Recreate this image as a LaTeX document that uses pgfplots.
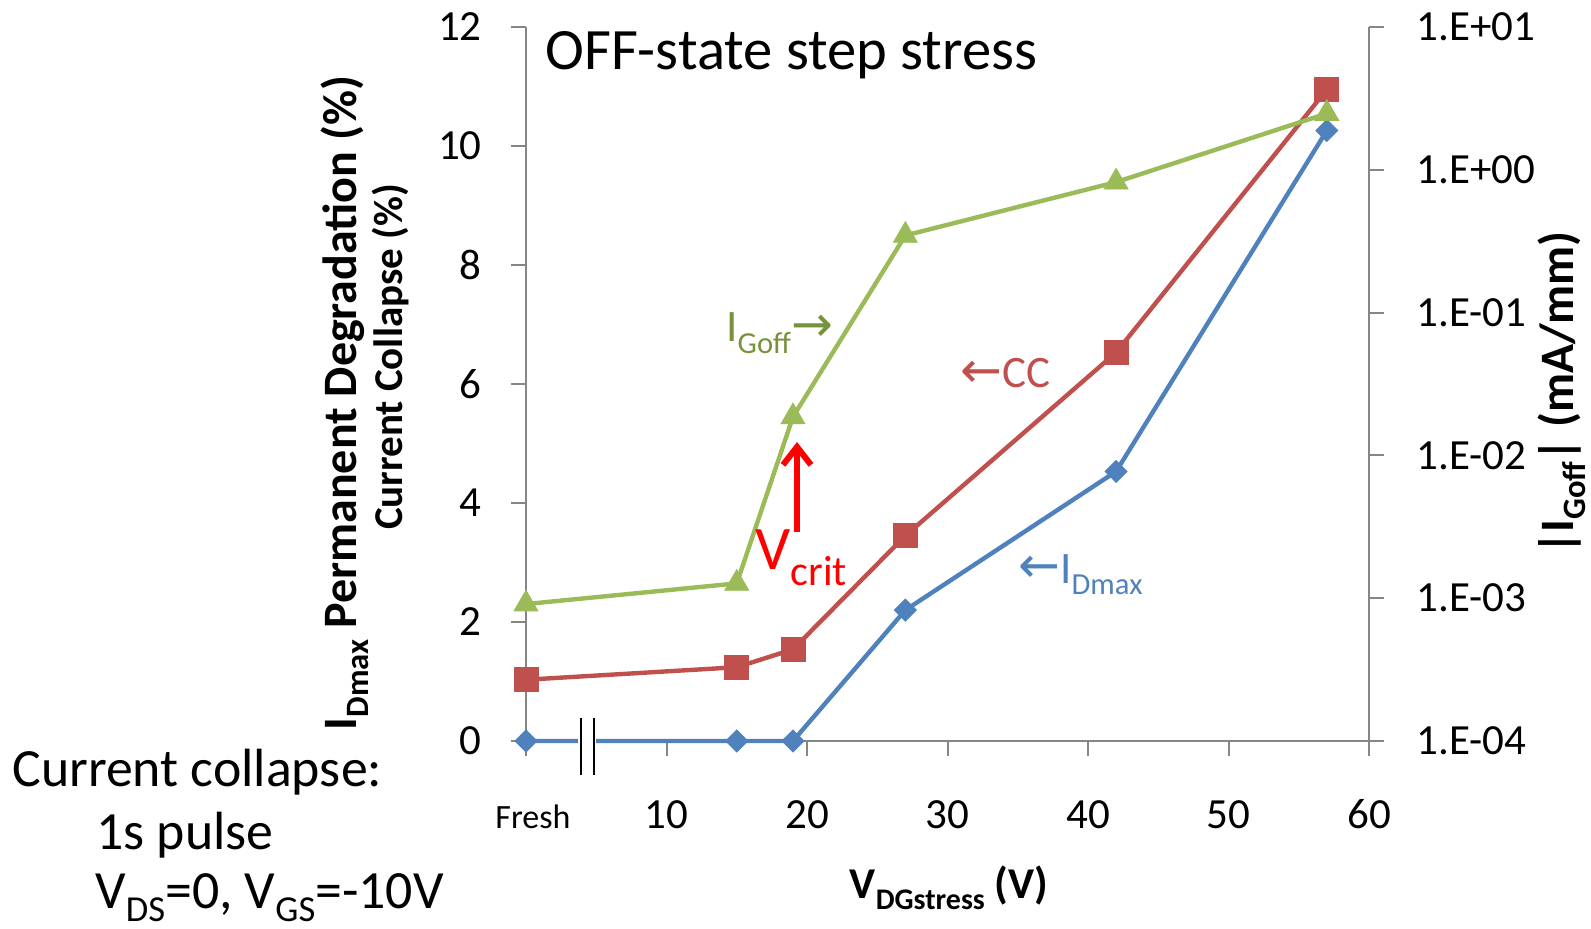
\documentclass[border=0pt]{standalone}
\usepackage{fontspec}
\setmainfont{Carlito}
\newfontfamily\arrowfont{DejaVu Sans}
\usepackage{graphicx}
\usepackage{pgfplots}
\pgfplotsset{compat=1.18}
\usetikzlibrary{arrows.meta}

\definecolor{cBlue}{RGB}{79,129,189}
\definecolor{cRed}{RGB}{192,80,77}
\definecolor{cGreen}{RGB}{155,187,89}
\definecolor{cGreenText}{RGB}{118,146,60}
\definecolor{cAxis}{RGB}{134,134,134}

\newcommand{\sub}[1]{\raisebox{-0.25em}{\scalebox{0.68}{#1}}}
\newcommand{\arr}[1]{{\arrowfont\fontsize{25}{25}\selectfont #1}}

% I_Dmax permanent degradation (%)
\pgfplotstableread{
x y
0 0
15 0
19 0
27 2.2
42 4.53
57 10.26
}\idmax
% current collapse (%)
\pgfplotstableread{
x y
0 1.03
15 1.24
19 1.54
27 3.45
42 6.53
57 10.95
}\cc
% |I_Goff| (mA/mm)
\pgfplotstableread{
x y
0 9.1e-4
15 1.27e-3
19 1.86e-2
27 0.347
42 0.82
57 2.48
}\igoff

\begin{document}
\begin{tikzpicture}
\path[use as bounding box] (0,0) rectangle (795.5pt,464pt);

\begin{axis}[
  at={(263pt,93.5pt)}, anchor=south west,
  width=421.5pt, height=357pt, scale only axis,
  xmin=0, xmax=60, ymin=0, ymax=12,
  axis x line*=bottom, axis y line*=left,
  axis line style={cAxis, line width=1pt},
  tick align=outside, major tick length=7.5pt,
  tick style={cAxis, line width=1pt},
  xtick={0,10,...,60},
  xticklabels={{\fontsize{17}{17}\selectfont\hspace*{7pt}Fresh},10,20,30,40,50,60},
  ytick={0,2,...,12},
  /pgf/number format/assume math mode=true,
  tick label style={font=\fontsize{21.5}{21.5}\selectfont, inner sep=0pt},
  x tick label style={anchor=base, yshift=-36pt},
  y tick label style={anchor=east, xshift=-14.5pt},
  clip=false,
]
\addplot[cBlue, line width=2.2pt, mark=square*, mark size=3.9pt,
  mark options={solid, rotate=45, line width=0.4pt}] table {\idmax};
% axis break on the x axis
\fill[white] (axis cs:3.7,-0.2) rectangle (axis cs:5.0,0.2);
\draw[black, line width=1pt] (axis cs:3.91,0.395) -- (axis cs:3.91,-0.563);
\draw[black, line width=1pt] (axis cs:4.84,0.395) -- (axis cs:4.84,-0.563);
\addplot[cRed, line width=2.2pt, mark=square*, mark size=6pt,
  mark options={solid, line width=0.4pt}] table {\cc};
\end{axis}

\begin{axis}[
  at={(263pt,93.5pt)}, anchor=south west,
  width=421.5pt, height=357pt, scale only axis,
  xmin=0, xmax=60, ymode=log, ymin=1e-4, ymax=10,
  axis y line*=right, axis x line=none,
  axis line style={cAxis, line width=1pt},
  tick align=outside, major tick length=7.5pt,
  tick style={cAxis, line width=1pt},
  yminorticks=false,
  ytick={1e-4,1e-3,1e-2,1e-1,1,10},
  yticklabels={1.E-04,1.E-03,1.E-02,1.E-01,1.E+00,1.E+01},
  tick label style={font=\fontsize{21.5}{21.5}\selectfont, inner sep=0pt},
  y tick label style={anchor=west, xshift=16pt},
  clip=false,
]
\addplot[cGreen, line width=2.2pt, mark=triangle*, mark size=6.9pt,
  mark options={solid, line width=0.4pt}] table {\igoff};
\end{axis}

% axis titles
\node[rotate=90, font=\bfseries\fontsize{24}{24}\selectfont]
  at (172.5pt,262.5pt) {I\sub{Dmax} Permanent Degradation (\%)};
\node[rotate=90, font=\bfseries\fontsize{20.5}{20.5}\selectfont]
  at (195.5pt,285.5pt) {Current Collapse (\%)};
\node[rotate=90, font=\bfseries\fontsize{24}{24}\selectfont]
  at (781pt,267.5pt) {|I\sub{Goff}| (mA/mm)};
\node[anchor=base, font=\bfseries\fontsize{22}{22}\selectfont]
  at (474.5pt,15pt) {V\sub{DGstress} (V)};

% title and notes
\node[anchor=base west, inner sep=0pt, font=\fontsize{29.3}{29.3}\selectfont]
  at (272.5pt,429pt) {OFF-state step stress};
\node[anchor=base west, inner sep=0pt, font=\fontsize{26.9}{26.9}\selectfont]
  at (6pt,71pt) {Current collapse:};
\node[anchor=base west, inner sep=0pt, font=\fontsize{26.9}{26.9}\selectfont]
  at (48pt,39.5pt) {1s pulse};
\node[anchor=base west, inner sep=0pt, font=\fontsize{26.9}{26.9}\selectfont]
  at (47.5pt,10pt) {V\sub{DS}=0, V\sub{GS}=-10V};

% series annotations
\node[anchor=base west, inner sep=0pt, text=cGreenText, font=\fontsize{22.5}{22.5}\selectfont]
  at (363pt,293pt) {I\sub{Goff}\arr{→}};
\node[anchor=base west, inner sep=0pt, text=cRed, font=\fontsize{22.5}{22.5}\selectfont]
  at (480pt,270pt) {\arr{←}CC};
\node[anchor=base west, inner sep=0pt, text=cBlue, font=\fontsize{22.5}{22.5}\selectfont]
  at (509pt,172.5pt) {\arr{←}I\sub{Dmax}};
\node[anchor=base west, inner sep=0pt, text=red, font=\fontsize{31}{31}\selectfont]
  at (377.5pt,179pt) {V\sub{crit}};
\draw[red, line width=3pt, -{Straight Barb[length=9pt,width=14pt]}]
  (398.5pt,198pt) -- (398.5pt,243pt);
\end{tikzpicture}
\end{document}
